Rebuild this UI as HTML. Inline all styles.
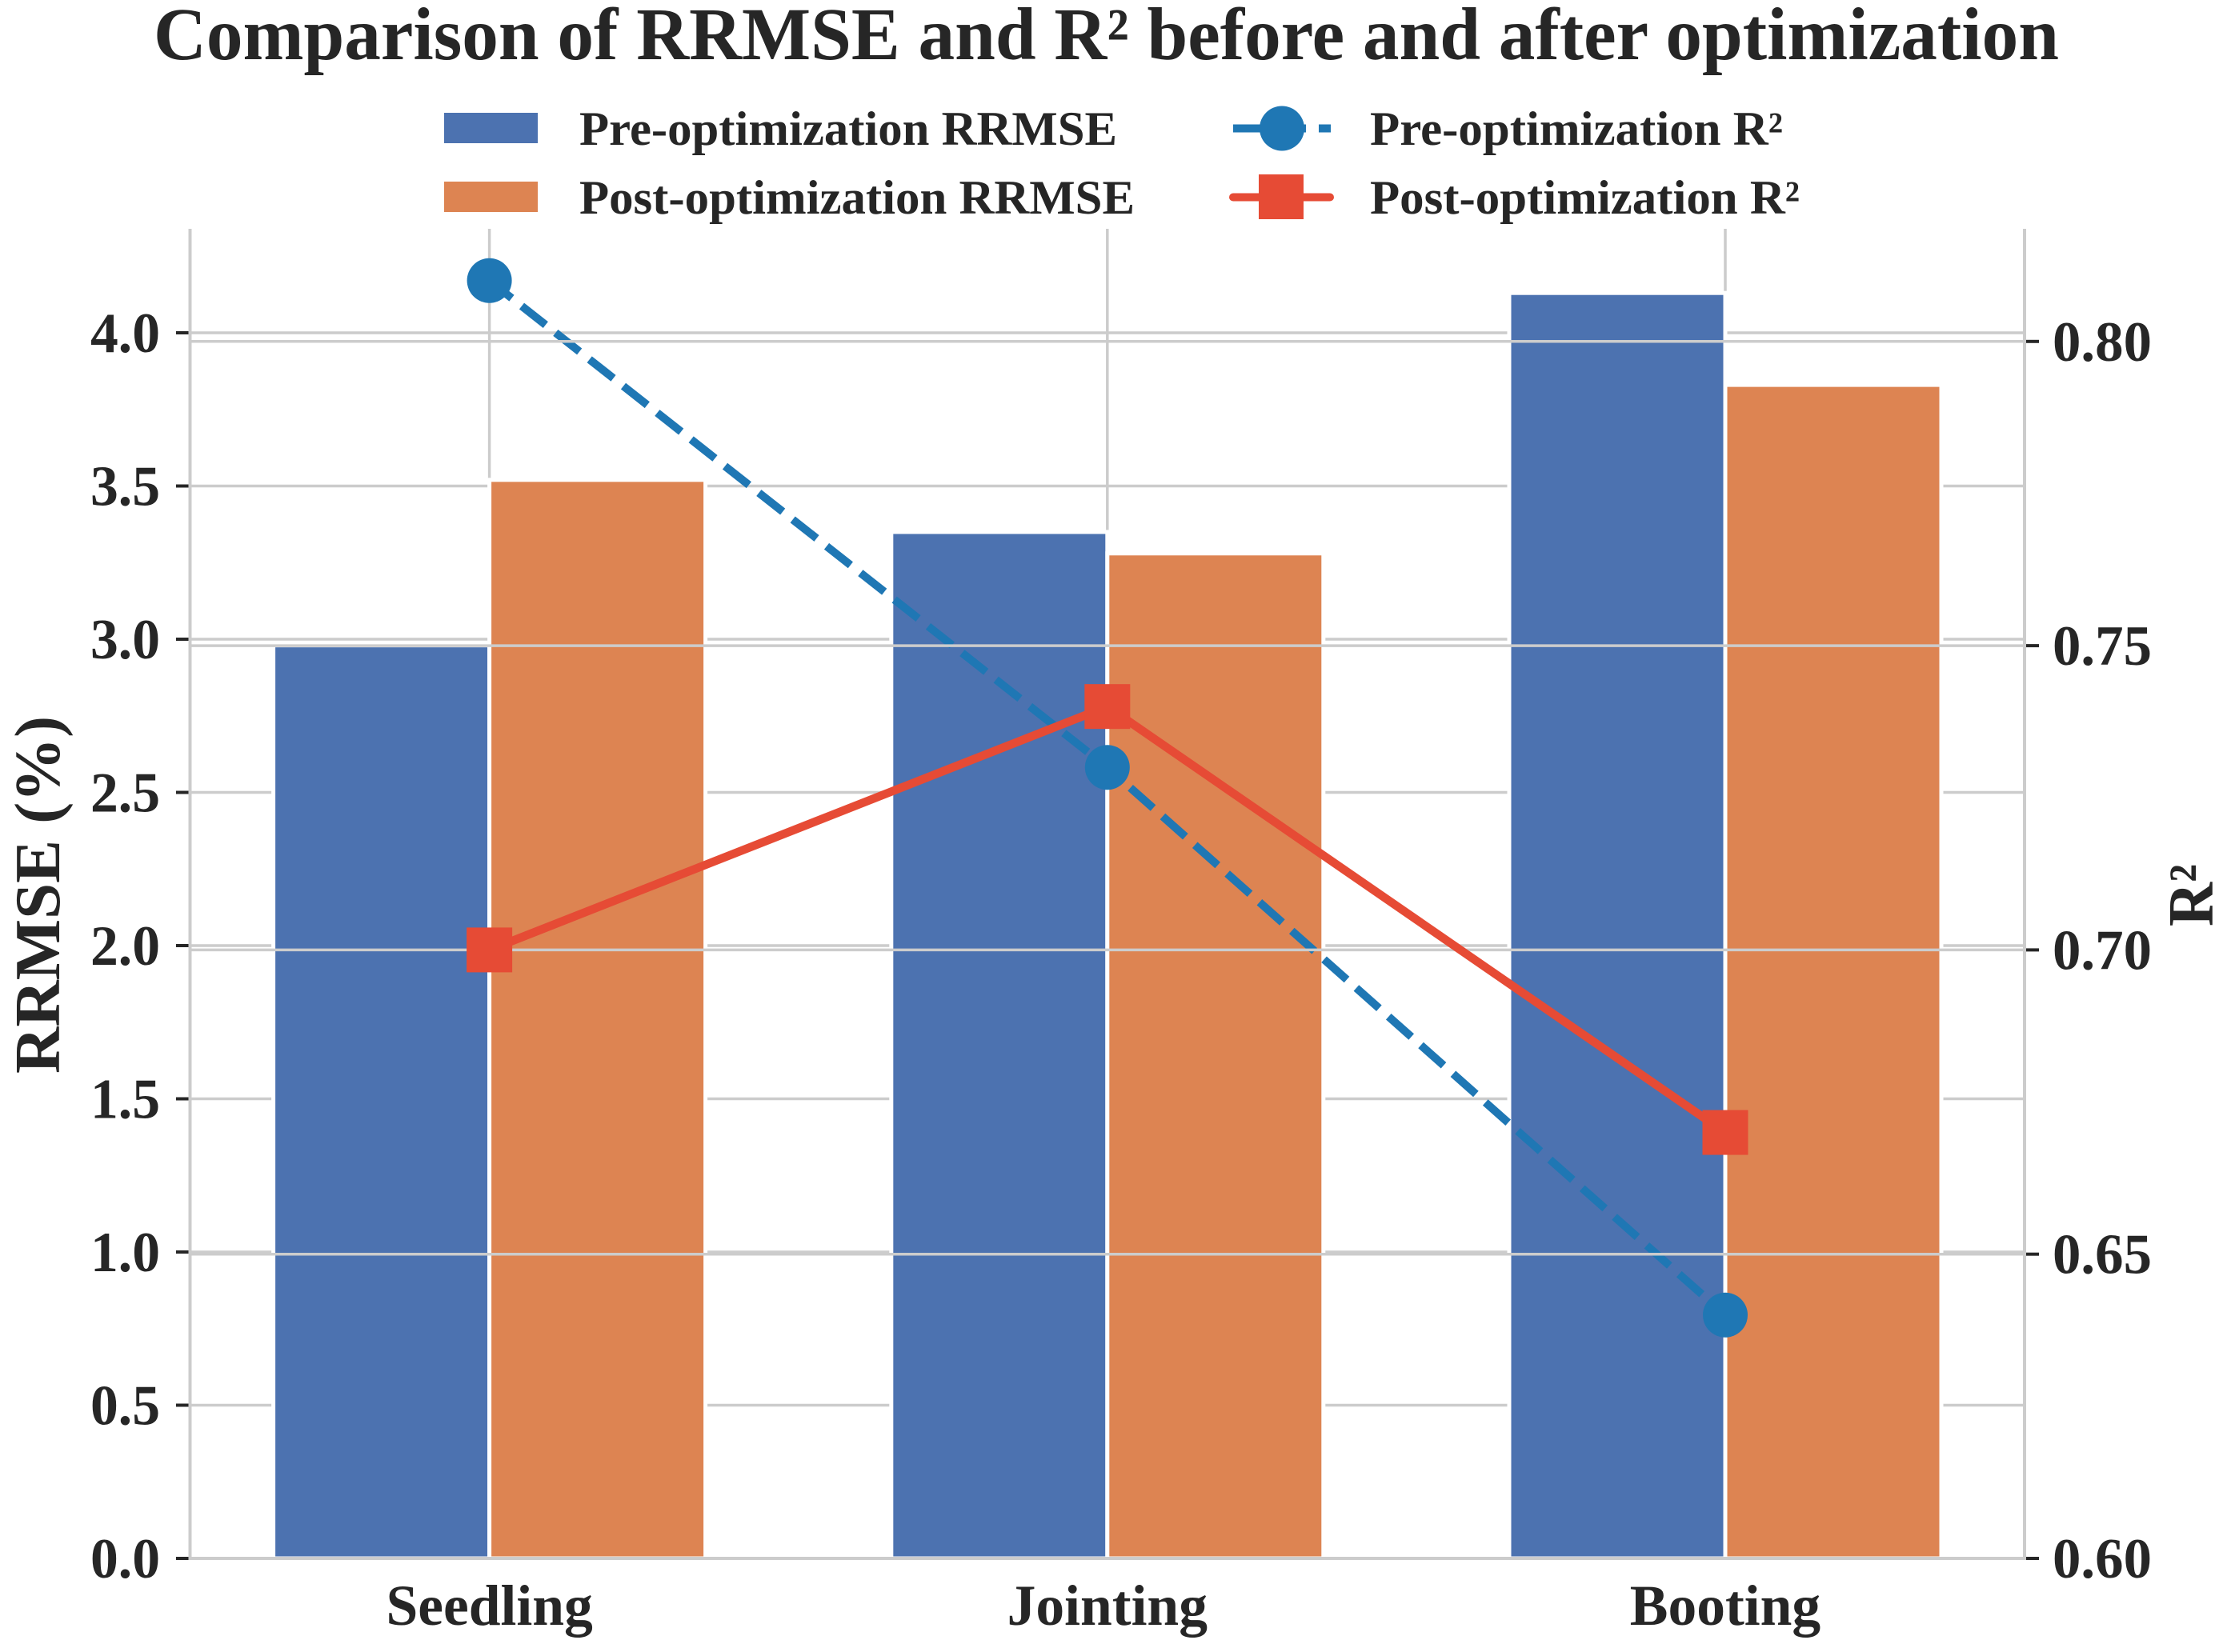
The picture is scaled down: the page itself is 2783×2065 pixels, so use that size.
<!DOCTYPE html>
<html lang="en">
<head>
<meta charset="utf-8">
<title>Comparison of RRMSE and R² before and after optimization</title>
<style>
html,body{margin:0;padding:0;background:#fff;}
svg{display:block;}
text{font-family:"Liberation Serif",serif;font-weight:bold;fill:#262626;}
</style>
</head>
<body>
<svg id="chart" xmlns="http://www.w3.org/2000/svg" width="2783" height="2065" viewBox="0 0 2783 2065">
  <rect x="0" y="0" width="2783" height="2065" fill="#ffffff"/>
  <g id="left-grid-layer"></g>
  <g id="bar-layer"></g>
  <g id="blue-line-layer"></g>
  <g id="right-grid-layer"></g>
  <g id="red-line-layer"></g>
  <g id="marker-layer"></g>
  <g id="axis-layer"></g>

  <text x="192" y="74" font-size="93" textLength="2381" lengthAdjust="spacingAndGlyphs">Comparison of RRMSE and R² before and after optimization</text>

  <g>
    <g>
      <rect x="555" y="141" width="117" height="38" fill="#4c72b0"/>
      <text x="724" y="181" font-size="60" textLength="672" lengthAdjust="spacingAndGlyphs">Pre-optimization RRMSE</text>
    </g>
    <g>
      <rect x="555" y="227" width="117" height="38" fill="#dd8452"/>
      <text x="724" y="267" font-size="60" textLength="694" lengthAdjust="spacingAndGlyphs">Post-optimization RRMSE</text>
    </g>
    <g>
      <line x1="1541" y1="160.5" x2="1632" y2="160.5" stroke="#1f77b4" stroke-width="10"/>
      <line x1="1648" y1="160.5" x2="1663" y2="160.5" stroke="#1f77b4" stroke-width="10"/>
      <circle cx="1602" cy="160.5" r="28" fill="#1f77b4"/>
      <text x="1712" y="181" font-size="60" textLength="516" lengthAdjust="spacingAndGlyphs">Pre-optimization R²</text>
    </g>
    <g>
      <line x1="1541" y1="246.5" x2="1662" y2="246.5" stroke="#e64b35" stroke-width="10" stroke-linecap="round"/>
      <rect x="1573" y="218" width="56" height="56" fill="#e64b35"/>
      <text x="1712" y="267" font-size="60" textLength="537" lengthAdjust="spacingAndGlyphs">Post-optimization R²</text>
    </g>
  </g>

  <text transform="translate(74 1342) rotate(-90)" font-size="80" textLength="447" lengthAdjust="spacingAndGlyphs">RRMSE (%)</text>
  <text transform="translate(2765 1158) rotate(-90)" font-size="80" textLength="78" lengthAdjust="spacingAndGlyphs">R²</text>
</svg>

<script>
const categories = ["Seedling", "Jointing", "Booting"];
const preRrmse = [2.98, 3.35, 4.13];
const postRrmse = [3.52, 3.28, 3.83];
const preR2 = [0.81, 0.73, 0.64];
const postR2 = [0.70, 0.74, 0.67];
const leftTicks = ["0.0", "0.5", "1.0", "1.5", "2.0", "2.5", "3.0", "3.5", "4.0"];
const rightTicks = ["0.60", "0.65", "0.70", "0.75", "0.80"];

const NS = "http://www.w3.org/2000/svg";
const plotLeft = 237.5, plotRight = 2530, plotTop = 286, plotBottom = 1948;
const barWidth = 270;
const GRID = "#cccccc", INK = "#262626", BLUE = "#1f77b4", RED = "#e64b35";

function xCat(i) { return 611.6 + i * 772.2; }
function yLeft(v) { return plotBottom - v * 383; }
function yRight(v) { return plotBottom - (v - 0.6) / 0.05 * 380.3; }

function make(tag, attrs, parent) {
  const el = document.createElementNS(NS, tag);
  for (const k in attrs) el.setAttribute(k, attrs[k]);
  parent.appendChild(el);
  return el;
}

const leftGridLayer = document.getElementById("left-grid-layer");
const barLayer = document.getElementById("bar-layer");
const blueLayer = document.getElementById("blue-line-layer");
const rightGridLayer = document.getElementById("right-grid-layer");
const redLayer = document.getElementById("red-line-layer");
const markerLayer = document.getElementById("marker-layer");
const axisLayer = document.getElementById("axis-layer");

leftTicks.forEach(function (t) {
  const y = yLeft(parseFloat(t));
  const g = make("line", {x1: plotLeft, x2: plotRight, y1: y, y2: y, stroke: GRID, "stroke-width": 3.5}, leftGridLayer);
  
  
  const tick = make("line", {x1: 220, x2: plotLeft, y1: y, y2: y, stroke: INK, "stroke-width": 4}, axisLayer);
  
  
  const label = make("text", {x: 113, y: y + 24, "font-size": 71, textLength: 87, lengthAdjust: "spacingAndGlyphs"}, axisLayer);
  
  
  label.textContent = t;
});

categories.forEach(function (c, i) {
  const x = xCat(i);
  const v = make("line", {x1: x, x2: x, y1: plotTop, y2: plotBottom, stroke: GRID, "stroke-width": 3.5}, leftGridLayer);
  
  

  const b1 = make("rect", {x: x - barWidth, y: yLeft(preRrmse[i]), width: barWidth, height: plotBottom - yLeft(preRrmse[i]), fill: "#4c72b0", stroke: "#ffffff", "stroke-width": 5}, barLayer);
  
  
  const b2 = make("rect", {x: x, y: yLeft(postRrmse[i]), width: barWidth, height: plotBottom - yLeft(postRrmse[i]), fill: "#dd8452", stroke: "#ffffff", "stroke-width": 5}, barLayer);
  
  

  const label = make("text", {x: x, y: 2031, "font-size": 71.5, "text-anchor": "middle"}, axisLayer);
  
  
  label.textContent = c;
});

rightTicks.forEach(function (t) {
  const y = yRight(parseFloat(t));
  const g = make("line", {x1: plotLeft, x2: plotRight, y1: y, y2: y, stroke: GRID, "stroke-width": 3.5}, rightGridLayer);
  
  
  const tick = make("line", {x1: 2532, x2: 2548, y1: y, y2: y, stroke: INK, "stroke-width": 4}, axisLayer);
  
  
  const label = make("text", {x: 2565, y: y + 24, "font-size": 71, textLength: 124, lengthAdjust: "spacingAndGlyphs"}, axisLayer);
  
  
  label.textContent = t;
});

const bluePath = make("polyline", {
  points: preR2.map(function (v, i) { return xCat(i) + "," + yRight(v); }).join(" "),
  fill: "none", stroke: BLUE, "stroke-width": 10, "stroke-dasharray": "38 15.9", "stroke-dashoffset": 2.5
}, blueLayer);



const redPath = make("polyline", {
  points: postR2.map(function (v, i) { return xCat(i) + "," + yRight(v); }).join(" "),
  fill: "none", stroke: RED, "stroke-width": 10.5
}, redLayer);



preR2.forEach(function (v, i) {
  const m = make("circle", {cx: xCat(i), cy: yRight(v), r: 28, fill: BLUE}, markerLayer);
  
  
});
postR2.forEach(function (v, i) {
  const m = make("rect", {x: xCat(i) - 28.5, y: yRight(v) - 28, width: 57, height: 56, fill: RED}, markerLayer);
  
  
});

const spineLeft = make("line", {x1: plotLeft, x2: plotLeft, y1: plotTop, y2: plotBottom + 2, stroke: GRID, "stroke-width": 4}, axisLayer);


const spineRight = make("line", {x1: plotRight, x2: plotRight, y1: plotTop, y2: plotBottom + 2, stroke: GRID, "stroke-width": 4}, axisLayer);


const spineBottom = make("line", {x1: plotLeft, x2: plotRight, y1: plotBottom, y2: plotBottom, stroke: GRID, "stroke-width": 4}, axisLayer);


</script>
</body>
</html>
